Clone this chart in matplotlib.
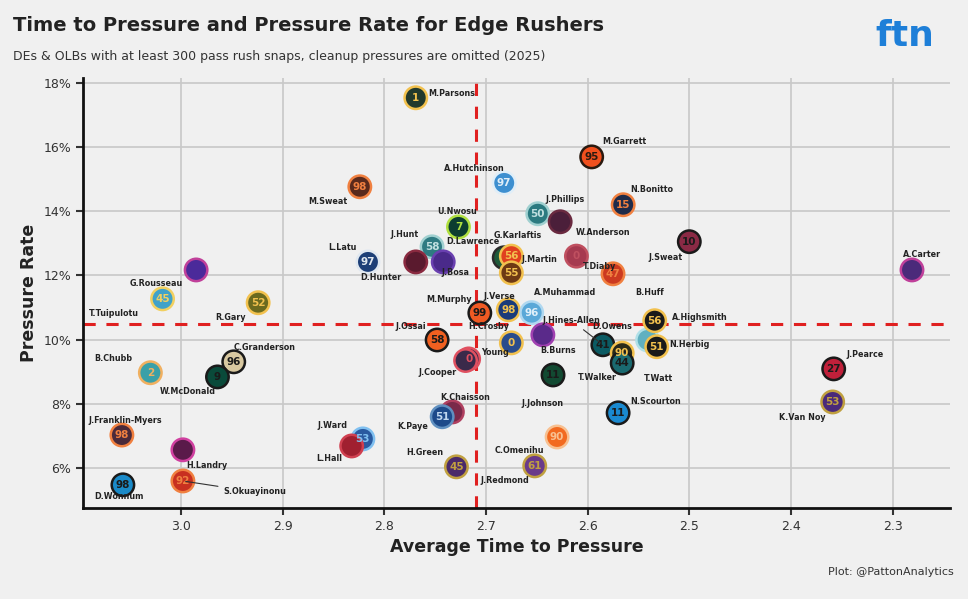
import matplotlib.pyplot as plt
from matplotlib.ticker import FuncFormatter

# player data
names = ['M.Parsons', 'M.Garrett', 'A.Hutchinson', 'M.Sweat', 'J.Phillips', 'W.Anderson',
         'N.Bonitto', 'U.Nwosu', 'J.Hunt', 'D.Lawrence', 'L.Latu', 'D.Hunter', 'J.Bosa',
         'G.Karlaftis', 'J.Martin', 'T.Diaby', 'B.Huff', 'J.Sweat', 'A.Carter', 'T.Tuipulotu',
         'G.Rousseau', 'R.Gary', 'M.Murphy', 'J.Verse', 'A.Muhammad', 'B.Burns', 'H.Crosby',
         'J.Ossai', 'Young', 'J.Cooper', 'J.Hines-Allen', 'D.Owens', 'J.Johnson', 'T.Watt',
         'A.Highsmith', 'N.Herbig', 'T.Walker', 'J.Pearce', 'K.Van Noy', 'N.Scourton',
         'C.Omenihu', 'J.Redmond', 'H.Green', 'K.Chaisson', 'K.Paye', 'J.Ward', 'L.Hall',
         'B.Chubb', 'C.Granderson', 'W.McDonald', 'J.Franklin-Myers', 'H.Landry',
         'S.Okuayinonu', 'D.Wonnum']
time_to_pressure = [2.769, 2.596, 2.682, 2.824, 2.649, 2.627, 2.565, 2.727, 2.753, 2.682,
                    2.816, 2.769, 2.742, 2.675, 2.675, 2.611, 2.575, 2.500, 2.281, 2.985,
                    3.018, 2.924, 2.706, 2.678, 2.655, 2.644, 2.675, 2.748, 2.717, 2.720,
                    2.585, 2.541, 2.566, 2.566, 2.534, 2.532, 2.634, 2.358, 2.359, 2.570,
                    2.630, 2.652, 2.729, 2.733, 2.743, 2.821, 2.832, 3.030, 2.948, 2.964,
                    3.058, 2.998, 2.998, 3.057]
pressure_rate = [17.53, 15.69, 14.88, 14.76, 13.92, 13.67, 14.20, 13.51, 12.89, 12.55,
                 12.42, 12.42, 12.42, 12.60, 12.08, 12.60, 12.05, 13.05, 12.17, 12.17,
                 11.27, 11.15, 10.83, 10.93, 10.84, 10.15, 9.90, 9.99, 9.40, 9.35,
                 9.84, 9.99, 9.58, 9.27, 10.59, 9.78, 8.90, 9.09, 8.06, 7.72,
                 6.97, 6.07, 6.04, 7.75, 7.60, 6.91, 6.69, 8.97, 9.31, 8.84,
                 7.03, 6.57, 5.60, 5.48]
jersey = ['1', '95', '97', '98', '50', '', '15', '7', '58', '', '97', '', '',
          '56', '55', '0', '47', '10', '', '', '45', '52', '99', '98', '96', '', '0',
          '58', '0', '', '41', '', '90', '44', '56', '51', '11', '27', '53', '11',
          '90', '61', '45', '', '51', '53', '', '2', '96', '9', '98', '', '92', '98']
fill = ['#22392c', '#f0501e', '#3d8fd0', '#5a2a1c', '#2b7a80', '#4b1f3a', '#1f2b4a', '#0c3d30',
        '#2e7b82', '#1e5a3a', '#1d3f77', '#5a1a2e', '#4a2a8a', '#e0401f', '#6e3a14', '#a63a50',
        '#cc3a20', '#8a2a45', '#4b2a7a', '#4b2a9a', '#41a2c9', '#6b6a1e', '#f05a23', '#1a3b7a',
        '#5aa8d8', '#5a2a8a', '#2a4c8c', '#f06020', '#3a2a4a', '#3a2a4a', '#0b5b63', '#60b0c0',
        '#2a2a1a', '#1a6a70', '#1a1a1a', '#1a1a1a', '#124a32', '#c0203a', '#4a2a7a', '#1a8ad0',
        '#f26a20', '#6a3a8a', '#4a2a6a', '#7a2a4a', '#1d4a8a', '#2a5aa0', '#a02030', '#3aa0a8',
        '#d8c8a0', '#0a4a3a', '#4a2a3a', '#5a1a4a', '#c83020', '#1a8ac8']
edge = ['#f2c14e', '#2a1a10', '#e0eef8', '#f08040', '#a0d0d0', '#6a2a40', '#f08040', '#b0e040',
        '#a0d0d0', '#2a2a2a', '#e0e8f0', '#8a2a40', '#6a40b0', '#f2c14e', '#f2c14e', '#c05060',
        '#f08040', '#1a1a1a', '#c0409a', '#c0409a', '#f2d060', '#f2c14e', '#1a1a1a', '#f2c14e',
        '#b0d8f0', '#a040b0', '#f2c14e', '#1a1a1a', '#e05060', '#e05060', '#1a1a1a', '#b0e0e8',
        '#f2c14e', '#1a1a1a', '#f2c14e', '#f2c14e', '#1a1a1a', '#1a1a1a', '#c0a040', '#1a1a1a',
        '#f8c090', '#c0a040', '#c0a040', '#b04060', '#6090c0', '#80c0f0', '#d04050', '#f0b060',
        '#1a1a1a', '#1a1a1a', '#f08040', '#d040a0', '#f08040', '#1a1a1a']
num_color = ['#f2c14e', '#2a1a10', '#e0eef8', '#f08040', '#c0e0e0', '#6a2a40', '#f08040', '#b0e040',
             '#c0e0e0', '#2a2a2a', '#e0e8f0', '#8a2a40', '#6a40b0', '#f2c14e', '#f2c14e', '#c05060',
             '#f08040', '#1a1a1a', '#c0409a', '#c0409a', '#f2d060', '#f2c14e', '#1a1a1a', '#f2c14e',
             '#e0f0fa', '#a040b0', '#f2c14e', '#1a1a1a', '#e05060', '#e05060', '#1a1a1a', '#e0f0f0',
             '#f2c14e', '#1a1a1a', '#f2c14e', '#f2c14e', '#1a1a1a', '#1a1a1a', '#c0a040', '#1a1a1a',
             '#f8c090', '#c0a040', '#c0a040', '#b04060', '#c0d8f0', '#80c0f0', '#d04050', '#f0b060',
             '#1a1a1a', '#1a1a1a', '#f08040', '#d040a0', '#f08040', '#1a1a1a']
# label offsets in pixels
label_off = [(36, 4), (33, 15), (-30, 14), (-32, -15), (27, 14), (43, -11), (29, 15), (-1, 15),
             (-28, 12), (-31, 16), (-26, 14), (-35, -16), (12, -11), (6, 21), (28, 13), (23, -10),
             (37, -19), (-24, -16), (10, 15), (-82, -44), (-6, 15), (-28, -15), (-31, 13), (-9, 13),
             (33, 20), (15, -16), (-23, 16), (-26, 13), (26, 6), (-28, -12), (-31, 24), (-35, 13),
             (-80, -50), (36, -15), (45, 3), (33, 2), (44, -3), (31, 14), (-30, -16), (38, 11),
             (-38, -14), (-30, -15), (-32, 14), (13, 14), (-30, -10), (-30, 13), (-22, -13),
             (-37, 14), (31, 14), (-30, -15), (3, 15), (24, -16), (72, -11), (-4, -12)]
avg_time = 2.71
avg_rate = 10.5

bg = '#f0f0f0'
fig = plt.figure(figsize=(9.68, 5.99), dpi=100, facecolor=bg)
ax = fig.add_axes([0.086, 0.152, 0.895, 0.718], facecolor=bg)

ax.grid(True, color='#c8c8c8', lw=1.2)
ax.set_axisbelow(True)
ax.axvline(avg_time, color='#e02020', lw=2.2, ls=(0, (4, 3.5)), zorder=1)
ax.axhline(avg_rate, color='#e02020', lw=2.2, ls=(0, (4, 3.5)), zorder=1)

ax.scatter(time_to_pressure, pressure_rate, s=260, c=fill, edgecolors=edge,
           linewidths=1.8, zorder=3)
for i, n in enumerate(names):
    x, y = time_to_pressure[i], pressure_rate[i]
    if jersey[i]:
        ax.text(x, y, jersey[i], ha='center', va='center', fontsize=7.5,
                color=num_color[i], fontweight='bold', zorder=4)
    dx, dy = label_off[i]
    arrow = None
    if n in ('S.Okuayinonu', 'J.Hines-Allen'):
        arrow = dict(arrowstyle='-', color='#333333', lw=0.8)
    ax.annotate(n, (x, y), xytext=(dx, dy), textcoords='offset pixels', ha='center',
                va='center', fontsize=5.8, fontweight='bold', color='#222222',
                arrowprops=arrow, zorder=5)

ax.set_xlim(3.096, 2.244)
ax.set_ylim(4.76, 18.15)
ax.set_xticks([3.0, 2.9, 2.8, 2.7, 2.6, 2.5, 2.4, 2.3])
ax.set_yticks([6, 8, 10, 12, 14, 16, 18])
ax.yaxis.set_major_formatter(FuncFormatter(lambda v, p: f'{v:.0f}%'))
ax.tick_params(labelsize=9, colors='#333333', length=5, width=1.5)
for s in ['top', 'right']:
    ax.spines[s].set_visible(False)
for s in ['left', 'bottom']:
    ax.spines[s].set_linewidth(2)
    ax.spines[s].set_color('#111111')
ax.set_xlabel('Average Time to Pressure', fontsize=12.5, fontweight='bold', color='#222222')
ax.set_ylabel('Pressure Rate', fontsize=12.5, fontweight='bold', color='#222222')

fig.text(0.013, 0.958, 'Time to Pressure and Pressure Rate for Edge Rushers', fontsize=14,
         fontweight='bold', color='#222222', va='center')
fig.text(0.013, 0.906, 'DEs & OLBs with at least 300 pass rush snaps, cleanup pressures are omitted (2025)',
         fontsize=9, color='#333333', va='center')
fig.text(0.965, 0.94, 'ftn', fontsize=26, fontweight='bold', color='#1e7fd8', ha='right',
         va='center')
fig.text(0.985, 0.04, 'Plot: @PattonAnalytics', fontsize=8, color='#333333', ha='right')

fig.savefig('out.png', dpi=100, facecolor=bg)
